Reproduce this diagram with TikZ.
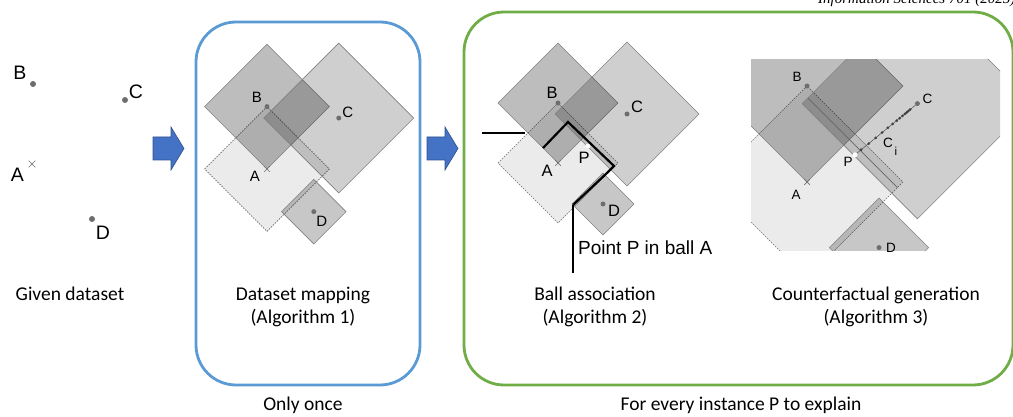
\documentclass[tikz,border=0pt]{standalone}
\usepackage{fontspec}
\setmainfont{Carlito}
\newfontfamily\arialfont{Liberation Sans}
\newfontfamily\timesfont{Liberation Serif}
\usetikzlibrary{shapes.misc}

\definecolor{boxblue}{RGB}{91,155,213}
\definecolor{boxgreen}{RGB}{112,173,71}
\definecolor{arrowblue}{RGB}{68,114,196}
\definecolor{arrowedge}{RGB}{47,82,143}
\definecolor{edgegrey}{RGB}{128,128,128}
\definecolor{ptgrey}{RGB}{110,110,110}

\tikzset{
  ball/.style={draw=edgegrey, line width=0.6pt, fill=black},
  ballA/.style={draw=ptgrey, line width=0.6pt, dash pattern=on 1.6pt off 1.2pt, fill=black!8},
  pt/.style={circle, fill=ptgrey, inner sep=0pt, minimum size=5pt},
  ptP/.style={circle, fill=white, inner sep=0pt, minimum size=5pt},
  ptx/.style={cross out, draw=ptgrey, line width=0.7pt, inner sep=0pt, minimum size=5pt},
  ci/.style={circle, fill=black!75, inner sep=0pt, minimum size=3pt},
  lbl/.style={font=\arialfont\fontsize{#1}{#1}\selectfont, inner sep=0pt},
  lbl/.default=16,
  caption/.style={font=\fontsize{19.5}{23}\selectfont, anchor=base, inner sep=0pt},
  panelbox/.style={line width=2.8pt, rounded corners=40pt},
  blockarrow/.style={fill=arrowblue, draw=arrowedge, line width=0.6pt},
  callout/.style={line width=1.7pt, black},
  ballline/.style={line width=2.2pt, black},
}

% one ball: a square on its corner round (#2,#3), radius #4
\newcommand{\ballsq}[4][]{\draw[#1] (#2-#4,#3) -- (#2,#3-#4) -- (#2+#4,#3) -- (#2,#3+#4) -- cycle;}

% the four balls round A, point names end in #1
\newcommand{\ballscene}[1]{%
  \ballsq[ballA]{0}{0}{60}
  \ballsq[ball, fill opacity=.26]{0}{-60}{60}
  \ballsq[ball, fill opacity=.19]{69}{-49}{72}
  \ballsq[ball, fill opacity=.22]{45}{41}{31}
  \node[ptx] (A#1) at (0,0) {};
  \node[pt] (B#1) at (0,-60) {};
  \node[pt] (C#1) at (69,-49) {};
  \node[pt] (D#1) at (45,41) {};
}

\begin{document}
\begin{tikzpicture}[x=1pt, y=-1pt]
  \useasboundingbox (0,0) rectangle (1013,417);

  % journal header, cut by the page edge
  \node[anchor=base west, font=\timesfont\itshape\fontsize{15}{15}\selectfont, inner sep=0pt] (journal) at (818,4) {Information Sciences 701 (2025)};

  % frames
  \draw[panelbox, boxblue] (196,22) rectangle (420,385);
  \draw[panelbox, boxgreen] (464,12) rectangle (1013,385);

  % block arrows
  \foreach \ax in {153,427}
    \draw[blockarrow] (\ax,137) -- ++(18,0) -- ++(0,-10) -- (\ax+31,148.5)
      -- (\ax+18,170) -- ++(0,-10) -- (\ax,160) -- cycle;

  % given dataset
  \node[pt, minimum size=6pt] (B1) at (33,84) {};
  \node[pt, minimum size=6pt] (C1) at (125,100) {};
  \node[ptx, minimum size=6pt] (A1) at (32,164) {};
  \node[pt, minimum size=6pt] (D1) at (92,219) {};
  \node[lbl=19.5] (lB1) at ([shift={(-13,-11)}]B1) {B};
  \node[lbl=19.5] (lC1) at ([shift={(11,-8)}]C1) {C};
  \node[lbl=19.5] (lA1) at ([shift={(-14.5,11)}]A1) {A};
  \node[lbl=19.5] (lD1) at ([shift={(11,14)}]D1) {D};

  % dataset mapping
  \begin{scope}[shift={(267,169)}, scale=1.04]
    \ballscene{2}
  \end{scope}
  \node[lbl=15] (lB2) at ([shift={(-10,-9)}]B2) {B};
  \node[lbl=15] (lC2) at ([shift={(9,-6)}]C2) {C};
  \node[lbl=15] (lA2) at ([shift={(-12,7)}]A2) {A};
  \node[lbl=15] (lD2) at ([shift={(8,10)}]D2) {D};

  % ball association
  \begin{scope}[shift={(558,163)}]
    \ballscene{3}
    \node[ptP] (P3) at (30,-17) {};
    \coordinate (bA1) at (-15,-15);
    \coordinate (bA2) at (10,-41);
    \coordinate (bA3) at (56,3);
    \coordinate (bA4) at (50,9);
    \coordinate (bA5) at (15,42);
  \end{scope}
  \draw[ballline] (bA1) -- (bA2) -- (bA3) -- (bA4) -- (bA5);
  \coordinate (lead) at (482,133);
  \coordinate (leadend) at (525,133);
  \coordinate (foot) at (573,273);
  \draw[callout] (lead) -- (leadend);
  \draw[callout] (bA5) -- (foot);
  \node[lbl=16.5] (lB3) at ([shift={(-6,-10)}]B3) {B};
  \node[lbl=16.5] (lC3) at ([shift={(10,-7)}]C3) {C};
  \node[lbl=16.5] (lA3) at ([shift={(-11,8)}]A3) {A};
  \node[lbl=16.5] (lD3) at ([shift={(11,7)}]D3) {D};
  \node[lbl=16.5] (lP3) at ([shift={(-4,12)}]P3) {P};
  \node[lbl=19, anchor=west] (ballnote) at (578,248) {Point P in ball A};

  % counterfactual generation
  \begin{scope}
    \clip (751,60) rectangle (1000,250);
    \begin{scope}[shift={(807,182)}, scale=1.6]
      \ballscene{4}
      \coordinate (mid1) at (0.5,-52.5);
      \coordinate (mid2) at (56.5,3.5);
      \draw[black!60, line width=0.6pt] (mid1) -- (mid2);
      \node[ptP] (P4) at (30,-17) {};
      \draw[black!70, line width=0.5pt] (P4) -- (C4);
      \foreach \t [count=\k] in {0.07,0.2,0.32,0.43,0.53,0.61,0.68,0.73,0.78,0.82,0.85,0.88,0.91}
        \path (P4) -- (C4) node[ci, pos=\t] (ci\k) {};
    \end{scope}
  \end{scope}
  \node[lbl=13.5] (lB4) at ([shift={(-10,-9)}]B4) {B};
  \node[lbl=13.5] (lC4) at ([shift={(10,-5)}]C4) {C};
  \node[lbl=13.5] (lA4) at ([shift={(-11,13)}]A4) {A};
  \node[lbl=13.5] (lD4) at ([shift={(12,0)}]D4) {D};
  \node[lbl=13.5] (lP4) at ([shift={(-7,7)}]P4) {P};
  \node[lbl=13.5] (lCi) at (888,143) {C};
  \node[lbl=11.5] (lCii) at (896,151) {i};

  % captions
  \node[caption] (given) at (70,300) {Given dataset};
  \node[caption] (mapping) at (303,300) {Dataset mapping};
  \node[caption] (mappingalg) at (303,323) {(Algorithm 1)};
  \node[caption] (assoc) at (595,300) {Ball association};
  \node[caption] (assocalg) at (595,323) {(Algorithm 2)};
  \node[caption] (cfgen) at (876,300) {Counterfactual generation};
  \node[caption] (cfgenalg) at (876,323) {(Algorithm 3)};
  \node[caption] (once) at (303,410) {Only once};
  \node[caption] (every) at (741,410) {For every instance P to explain};
\end{tikzpicture}
\end{document}
